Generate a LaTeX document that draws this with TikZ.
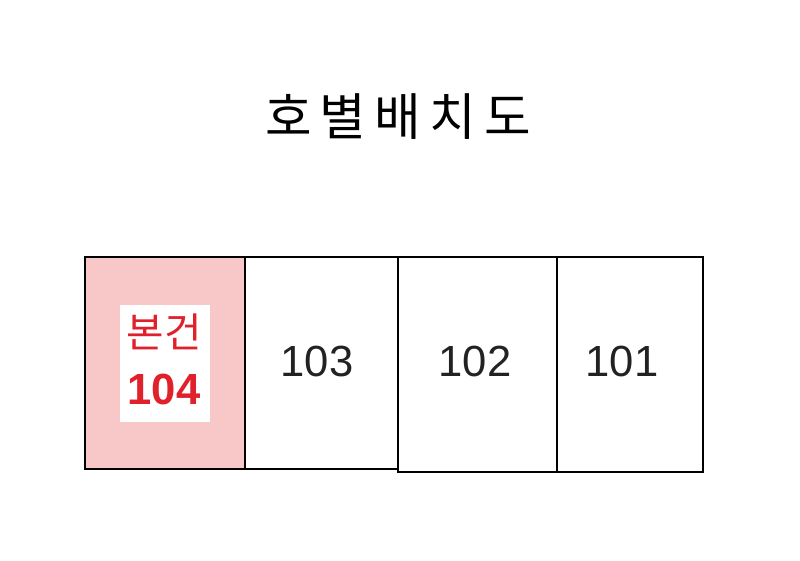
\documentclass[tikz,border=0pt]{standalone}
\usepackage{fontspec}
\setmainfont{Liberation Sans}
\newfontfamily\kr{Noto Sans CJK KR}
\definecolor{pinkbg}{HTML}{F8C8C8}
\definecolor{redtxt}{HTML}{E0202A}
\definecolor{numgray}{HTML}{222222}
\begin{document}
\begin{tikzpicture}[x=0.025cm,y=-0.025cm]
\useasboundingbox(0,0)rectangle(800,560);
\def\w{1.4pt}
\node(title)at(398,117){\kr\fontsize{36}{40}\selectfont\addfontfeature{LetterSpace=16}호별배치도};
\fill[color=pinkbg](85,257)rectangle(245,469);
\fill[white](120,305)rectangle(210,422);
\node[text=redtxt](bongeon)at(164,332){\kr\fontsize{29}{32}\selectfont 본건};
\node[text=redtxt](n104)at(164,389){\fontsize{31}{34}\selectfont\bfseries 104};
\foreach \v/\l/\r/\b/\c in {103/245/398/469/317,102/398/557/472/475,101/557/703/472/622}  {
  \draw[line width=\w](\l,257)rectangle(\r,\b);
  \node[text=numgray](n\v)at(\c,361){\fontsize{31}{34}\selectfont \v};
}
\draw[line width=\w](85,257)rectangle(245,469);
\end{tikzpicture}
\end{document}
